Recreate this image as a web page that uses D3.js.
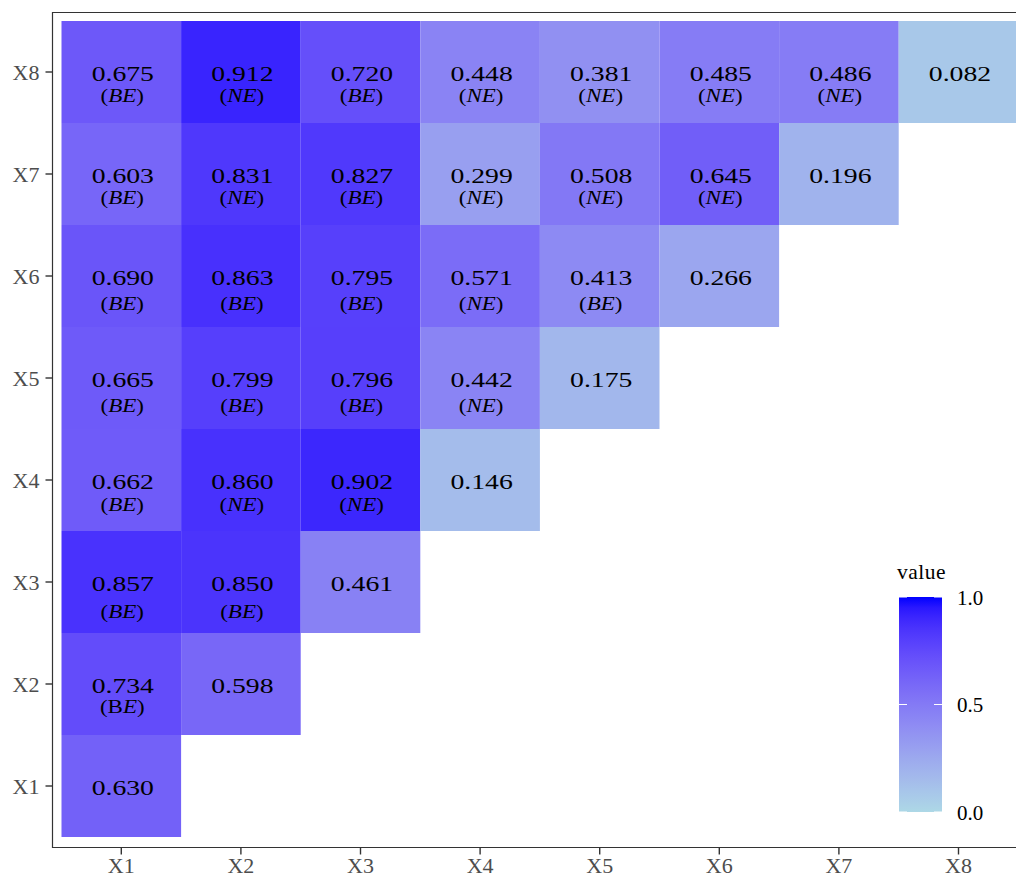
<!DOCTYPE html>
<html>
<head>
<meta charset="utf-8">
<script src="https://cdn.jsdelivr.net/npm/d3@7"></script>
<style>
  body { margin: 0; background: #fff; }
  svg { display: block; font-family: "Liberation Serif", "DejaVu Serif", serif; }
</style>
</head>
<body>
<svg id="chart" width="1016" height="878"></svg>
<script>
// variables on both axes
const vars = ["X1", "X2", "X3", "X4", "X5", "X6", "X7", "X8"];

// lower triangle, one array per row (values for X1.. up to the diagonal)
const rowX8 = [0.675, 0.912, 0.720, 0.448, 0.381, 0.485, 0.486, 0.082];
const rowX7 = [0.603, 0.831, 0.827, 0.299, 0.508, 0.645, 0.196];
const rowX6 = [0.690, 0.863, 0.795, 0.571, 0.413, 0.266];
const rowX5 = [0.665, 0.799, 0.796, 0.442, 0.175];
const rowX4 = [0.662, 0.860, 0.902, 0.146];
const rowX3 = [0.857, 0.850, 0.461];
const rowX2 = [0.734, 0.598];
const rowX1 = [0.630];

// type under each value ("" = none)
const typeX8 = ["BE", "NE", "BE", "NE", "NE", "NE", "NE", ""];
const typeX7 = ["BE", "NE", "BE", "NE", "NE", "NE", ""];
const typeX6 = ["BE", "BE", "BE", "NE", "BE", ""];
const typeX5 = ["BE", "BE", "BE", "NE", ""];
const typeX4 = ["BE", "NE", "NE", ""];
const typeX3 = ["BE", "BE", ""];
const typeX2 = ["BE", ""];
const typeX1 = [""];

const legendTicks = [0, 0.5, 1];

const rows = [
  ["X8", rowX8, typeX8], ["X7", rowX7, typeX7], ["X6", rowX6, typeX6],
  ["X5", rowX5, typeX5], ["X4", rowX4, typeX4], ["X3", rowX3, typeX3],
  ["X2", rowX2, typeX2], ["X1", rowX1, typeX1]
];

// gap between value and its type label, per row (as drawn)
const subOffset = { X8: 22, X7: 22, X6: 26, X5: 26, X4: 23, X3: 28, X2: 21, X1: 22 };

const cells = [];
rows.forEach(([rv, vals, types]) => {
  vals.forEach((v, i) => cells.push({ row: rv, col: vars[i], value: v, type: types[i] }));
});

const svg = d3.select("#chart");

const x = d3.scaleBand().domain(vars).range([61.5, 61.5 + 8 * 119.6]);
const y = d3.scaleBand().domain(vars.slice().reverse()).range([21, 837]);

const interp = d3.interpolateLab("#ADD8E6", "#0000FF");
const color = v => interp(v);

// tiles
svg.append("g").selectAll("rect").data(cells).join("rect")
  .attr("x", d => x(d.col))
  .attr("y", d => y(d.row))
  .attr("width", x.bandwidth())
  .attr("height", y.bandwidth())
  .attr("fill", d => color(d.value));

// labels (cell text is drawn a bit stretched sideways, as in the original)
const cx = d => x(d.col) + x.bandwidth() / 2 + 1.5;
const cy = d => y(d.row) + y.bandwidth() / 2;
const lab = svg.append("g").attr("fill", "#000");
lab.selectAll("text.val").data(cells).join("text")
  .attr("class", "val")
  .attr("transform", d => `translate(${cx(d)},${cy(d) + 9}) scale(1.26,1)`)
  .attr("text-anchor", "middle")
  .attr("font-size", 22)
  .text(d => d.value.toFixed(3));

const sub = lab.selectAll("text.sub").data(cells.filter(d => d.type)).join("text")
  .attr("class", "sub")
  .attr("transform", d => `translate(${cx(d) - 0.5},${cy(d) + 8 + subOffset[d.row]}) scale(1.18,1)`)
  .attr("text-anchor", "middle")
  .attr("font-size", 19.5);
sub.each(function (d) {
  const t = d3.select(this);
  t.append("tspan").text("(");
  if (d.row === "X2") {
    t.append("tspan").text(d.type[0]);
    t.append("tspan").attr("font-style", "italic").text(d.type.slice(1));
  } else {
    t.append("tspan").attr("font-style", "italic").text(d.type);
  }
  t.append("tspan").text(")");
});

// panel border (right side runs off the image)
svg.append("path")
  .attr("d", "M1030,12.5H52.5V847.5H1030")
  .attr("fill", "none")
  .attr("stroke", "#333")
  .attr("stroke-width", 1.2);

// axes
const xAxis = svg.append("g").attr("transform", "translate(0,847.5)")
  .call(d3.axisBottom(x).tickSize(7).tickPadding(4));
const yAxis = svg.append("g").attr("transform", "translate(52.5,0)")
  .call(d3.axisLeft(y).tickSize(7).tickPadding(6));
[xAxis, yAxis].forEach(a => {
  a.select(".domain").remove();
  a.selectAll(".tick line").attr("stroke", "#333").attr("stroke-width", 1.4);
  a.selectAll(".tick text").attr("fill", "#4d4d4d")
    .attr("font-size", 22).attr("font-family", "Liberation Serif, serif");
});
yAxis.selectAll(".tick text").attr("dy", "0.36em");
xAxis.selectAll(".tick text").attr("dy", "0.66em");

// legend
const lg = { x: 899, y: 597, w: 43, h: 215 };
const ly = d3.scaleLinear().domain([0, 1]).range([lg.y + lg.h, lg.y]);
const grad = svg.append("defs").append("linearGradient")
  .attr("id", "grad").attr("x1", 0).attr("y1", 1).attr("x2", 0).attr("y2", 0);
d3.range(0, 1.0001, 0.05).forEach(t => {
  grad.append("stop").attr("offset", t).attr("stop-color", color(t));
});
svg.append("text").attr("x", lg.x - 2).attr("y", 579)
  .attr("font-size", 21.5).attr("letter-spacing", "0.5px").attr("fill", "#000").text("value");
svg.append("rect").attr("x", lg.x).attr("y", lg.y)
  .attr("width", lg.w).attr("height", lg.h).attr("fill", "url(#grad)");
const lt = svg.append("g");
legendTicks.forEach(v => {
  lt.append("line").attr("x1", lg.x).attr("x2", lg.x + 8)
    .attr("y1", ly(v)).attr("y2", ly(v)).attr("stroke", "#fff").attr("stroke-width", 1);
  lt.append("line").attr("x1", lg.x + lg.w - 8).attr("x2", lg.x + lg.w)
    .attr("y1", ly(v)).attr("y2", ly(v)).attr("stroke", "#fff").attr("stroke-width", 1);
  lt.append("text").attr("x", 957).attr("y", ly(v) + 7.5)
    .attr("font-size", 21).attr("fill", "#000").text(v.toFixed(1));
});
</script>
</body>
</html>
